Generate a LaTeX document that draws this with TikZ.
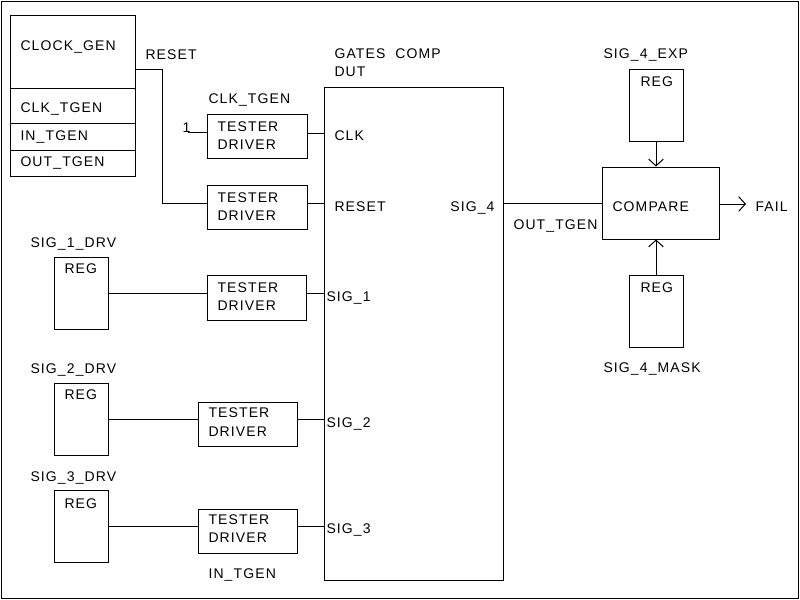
\documentclass[tikz,border=0pt]{standalone}
\usepackage{fontspec}
\setmainfont{Liberation Sans}[LetterSpace=8]
\usetikzlibrary{arrows.meta}
\begin{document}
\begin{tikzpicture}[x=0.75pt, y=-0.75pt, line width=0.75pt,
  box/.style 2 args={draw, rectangle, inner sep=0pt,
    minimum width=#1*0.75pt, minimum height=#2*0.75pt},
  lbl/.style={anchor=base west, inner sep=0pt, font=\fontsize{10.5}{12}\selectfont},
  rlbl/.style={lbl, anchor=base east},
  sig/.style={-{Straight Barb[length=5pt,width=11pt]}},
]
\useasboundingbox (0,0) rectangle (800,600);
\draw (1,1) rectangle (798,598);

% clock generator with its three sub-fields
\node[box={125}{161}] (clkgen) at (72.5,95.5) {};
\draw (clkgen.west |- 0,88) -- (clkgen.east |- 0,88);
\draw (clkgen.west |- 0,123) -- (clkgen.east |- 0,123);
\draw (clkgen.west |- 0,150) -- (clkgen.east |- 0,150);
\node[lbl] (tcg) at (20,50) {CLOCK\_GEN};
\node[lbl] (tck) at (20,112) {CLK\_TGEN};
\node[lbl] (tin) at (20,140) {IN\_TGEN};
\node[lbl] (tout) at (20,166) {OUT\_TGEN};

% tester drivers
\node[box={100}{44}] (td1) at (257,136) {};
\node[box={100}{44}] (td2) at (257,207) {};
\node[box={99}{45}] (td3) at (256.5,297.5) {};
\node[box={99}{44}] (td4) at (247.5,424) {};
\node[box={99}{44}] (td5) at (247.5,531) {};
\node[lbl] (td1a) at (217,131) {TESTER};
\node[lbl] (td1b) at (217,149) {DRIVER};
\node[lbl] (td2a) at (217,202) {TESTER};
\node[lbl] (td2b) at (217,220) {DRIVER};
\node[lbl] (td3a) at (217,292) {TESTER};
\node[lbl] (td3b) at (217,310) {DRIVER};
\node[lbl] (td4a) at (208,417) {TESTER};
\node[lbl] (td4b) at (208,436) {DRIVER};
\node[lbl] (td5a) at (208,524) {TESTER};
\node[lbl] (td5b) at (208,542) {DRIVER};

\node[lbl] (treset) at (145,59) {RESET};
\node[lbl] (tclktgen) at (208,103) {CLK\_TGEN};
\node[lbl] (tone) at (182,132) {1};
\node[lbl] (tintgen) at (208,578) {IN\_TGEN};

% device under test
\node[box={179}{493}] (dut) at (413.5,333.5) {};
\node[lbl] (tgates) at (334,58) {GATES~~COMP};
\node[lbl] (tdut) at (334,76) {DUT};
\node[lbl] (pclk) at (334,140) {CLK};
\node[lbl] (preset) at (334,211) {RESET};
\node[rlbl] (psig4) at (495,211) {SIG\_4};
\node[lbl] (psig1) at (326,301) {SIG\_1};
\node[lbl] (psig2) at (326,427) {SIG\_2};
\node[lbl] (psig3) at (326,533) {SIG\_3};

% stimulus registers
\node[box={54}{72}] (reg1) at (81,293.5) {};
\node[box={54}{72}] (reg2) at (81,419) {};
\node[box={54}{72}] (reg3) at (81,526.5) {};
\node[lbl] (tsig1drv) at (30,247) {SIG\_1\_DRV};
\node[lbl] (treg1) at (64,273) {REG};
\node[lbl] (tsig2drv) at (30,373) {SIG\_2\_DRV};
\node[lbl] (treg2) at (64,399) {REG};
\node[lbl] (tsig3drv) at (30,481) {SIG\_3\_DRV};
\node[lbl] (treg3) at (64,508) {REG};

% comparator side
\node[box={117}{72}] (cmp) at (660.5,203) {};
\node[box={54}{72}] (rexp) at (656,105) {};
\node[box={54}{72}] (rmask) at (656,311) {};
\node[lbl] (tcmp) at (612,211) {COMPARE};
\node[lbl] (tfail) at (755,211) {FAIL};
\node[lbl] (texp) at (603,58) {SIG\_4\_EXP};
\node[lbl] (tregexp) at (640,86) {REG};
\node[lbl] (tmask) at (603,372) {SIG\_4\_MASK};
\node[lbl] (tregmask) at (640,292) {REG};
\node[lbl] (touttgen) at (513,229) {OUT\_TGEN};

% connections
\draw (clkgen.east |- 0,69) -- (162,69) |- (td2.west |- 0,203);
\coordinate (in1) at (188,132);
\draw (in1) -- (in1 -| td1.west);
\draw (td1.east |- 0,133) -- (dut.west |- 0,133);
\draw (td2.east |- 0,203) -- (dut.west |- 0,203);
\draw (reg1.east) -- (reg1.east -| td3.west);
\draw (td3.east |- reg1.east) -- (dut.west |- reg1.east);
\draw (reg2.east) -- (reg2.east -| td4.west);
\draw (td4.east |- reg2.east) -- (dut.west |- reg2.east);
\draw (reg3.east) -- (reg3.east -| td5.west);
\draw (td5.east |- reg3.east) -- (dut.west |- reg3.east);
\draw (dut.east |- 0,203) -- (cmp.west |- 0,203);
\coordinate (fail) at (746,204);
\draw[sig] (cmp.east |- fail) -- (fail);
\draw[sig] (rexp.south) -- (cmp.north -| rexp.south);
\draw[sig] (rmask.north) -- (cmp.south -| rmask.north);
\end{tikzpicture}
\end{document}
